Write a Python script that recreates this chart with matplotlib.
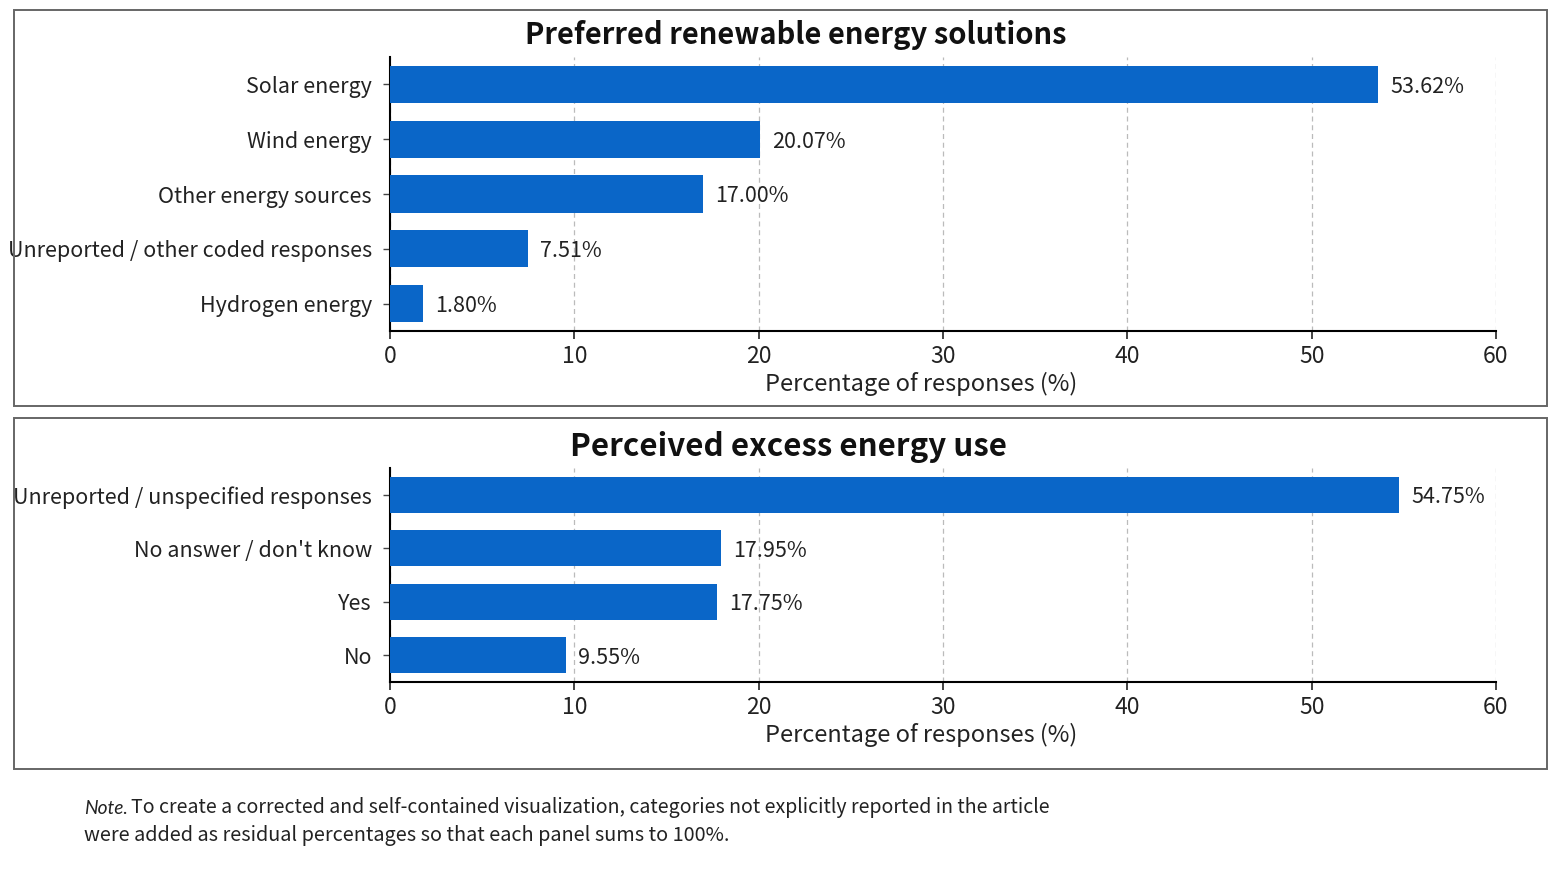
import matplotlib
matplotlib.use("Agg")
import matplotlib.pyplot as plt
from matplotlib.patches import Rectangle

plt.rcParams['font.family'] = ['Noto Sans CJK JP', 'DejaVu Sans']

# panel 1
energy_labels = ["Solar energy", "Wind energy", "Other energy sources",
                 "Unreported / other coded responses", "Hydrogen energy"]
energy_values = [53.62, 20.07, 17.00, 7.51, 1.80]

# panel 2
excess_labels = ["Unreported / unspecified responses", "No answer / don't know", "Yes", "No"]
excess_values = [54.75, 17.95, 17.75, 9.55]

x_ticks = [0, 10, 20, 30, 40, 50, 60]

note_line1 = ("To create a corrected and self-contained visualization, "
              "categories not explicitly reported in the article")
note_line2 = "were added as residual percentages so that each panel sums to 100%."

BAR_COLOR = "#0a66c8"
W, H = 1559, 877

fig = plt.figure(figsize=(W / 100, H / 100), dpi=100)
fig.patch.set_facecolor("white")


def fx(px):
    return px / W


def fy(py):
    return 1 - py / H


def draw_panel(ax, labels, values, title, title_x, title_y, title_size):
    pos = list(range(len(labels)))
    ax.barh(pos, values, height=0.68, color=BAR_COLOR, zorder=3)
    for p, v in zip(pos, values):
        ax.text(v + 0.65, p, f"{v:.2f}%", va="center_baseline", ha="left",
                fontsize=15.5, color="#222222")
    ax.set_yticks(pos)
    ax.set_yticklabels(labels, fontsize=15.5, color="#222222")
    ax.set_ylim(len(labels) - 0.5, -0.5)
    ax.set_xlim(0, 60)
    ax.set_xticks(x_ticks)
    ax.tick_params(axis="x", labelsize=16.5, length=6, width=1.2, colors="#222222", pad=4)
    ax.tick_params(axis="y", length=5, width=1, color="#444444", pad=8)
    ax.set_xlabel("Percentage of responses (%)", fontsize=17, color="#222222", labelpad=3)
    ax.xaxis.label.set_x(0.48)
    ax.xaxis.grid(True, linestyle=(0, (4, 3)), color="#bbbbbb", linewidth=0.9, zorder=0)
    ax.set_axisbelow(True)
    for s in ["top", "right"]:
        ax.spines[s].set_visible(False)
    ax.spines["left"].set_linewidth(1.5)
    ax.spines["bottom"].set_linewidth(1.5)
    fig.text(fx(title_x), fy(title_y), title, ha="center", va="center",
             fontsize=title_size, fontweight="bold", color="#111111")


# panel frames
for top, bottom in [(10, 406), (418, 769)]:
    fig.patches.append(Rectangle((fx(14), fy(bottom)), fx(1547) - fx(14), fy(top) - fy(bottom),
                                 transform=fig.transFigure, fill=False,
                                 edgecolor="#666666", linewidth=1.4))

ax1 = fig.add_axes([fx(390), fy(331), fx(1496) - fx(390), fy(57) - fy(331)])
draw_panel(ax1, energy_labels, energy_values, "Preferred renewable energy solutions", 796, 35, 21)

ax2 = fig.add_axes([fx(390), fy(682), fx(1496) - fx(390), fy(468) - fy(682)])
draw_panel(ax2, excess_labels, excess_values, "Perceived excess energy use", 789, 447, 22.5)

# note below the panels: italic "Note." followed by plain text
note_head = fig.text(fx(84), fy(808), "Note.", fontsize=13.8, va="center", ha="left",
                     color="#222222", family="Lato", style="italic")
fig.canvas.draw()
head_box = note_head.get_window_extent()
fig.text(head_box.x1 / W + fx(3), fy(808), note_line1, fontsize=14.1, va="center", ha="left",
         color="#222222")
fig.text(fx(84), fy(835), note_line2, fontsize=14.3, va="center", ha="left", color="#222222")

fig.savefig("out.png", dpi=100)
